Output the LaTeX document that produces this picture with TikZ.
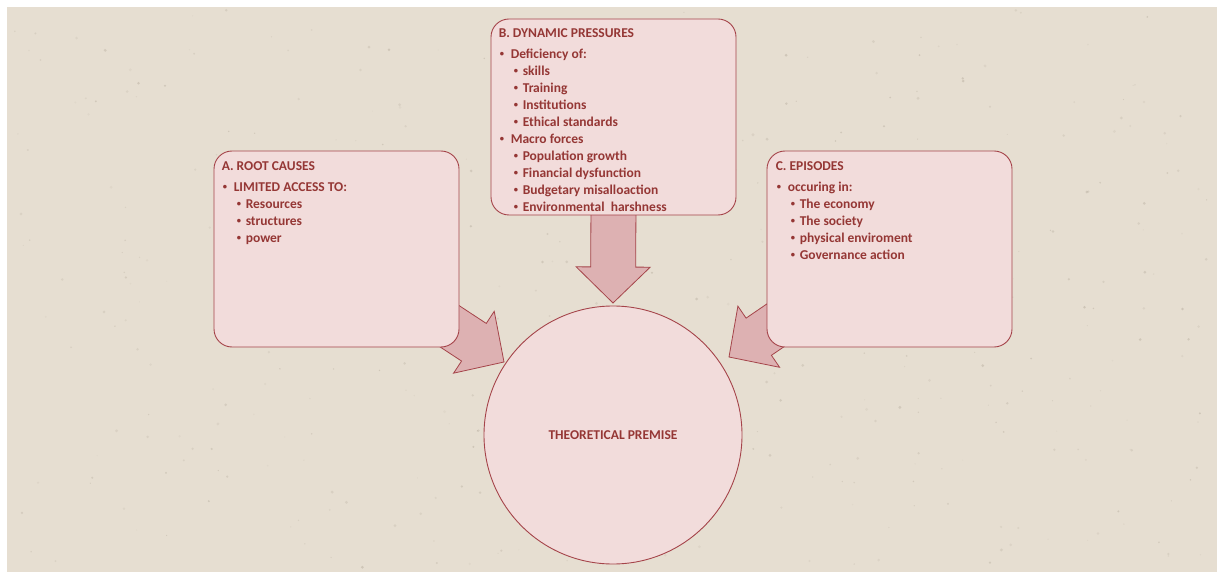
\documentclass[tikz,border=0pt]{standalone}
\usepackage{fontspec}
\setmainfont{Carlito}
\usetikzlibrary{calc}

\definecolor{paper}{HTML}{E6DED1}
\definecolor{speck}{HTML}{8C8170}
\definecolor{boxfill}{HTML}{F2DCDB}
\definecolor{boxline}{HTML}{A5444A}
\definecolor{arrowfill}{HTML}{DDB1B2}
\definecolor{ink}{HTML}{953735}

\pgfdeclarelayer{paperlayer}
\pgfdeclarelayer{arrowlayer}
\pgfsetlayers{paperlayer,arrowlayer,main}

% small bullet and the two list levels
\newcommand\smallbullet{\raisebox{2pt}{\fontsize{8.5}{8.5}\selectfont\textbullet}}
\newcommand\itemone[1]{\hspace*{1pt}\makebox[11pt][l]{\smallbullet}#1}
\newcommand\itemtwo[1]{\hspace*{15pt}\makebox[9pt][l]{\smallbullet}#1}

\tikzset{
  panel/.style={draw=boxline, line width=0.9pt, fill=boxfill,
    rounded corners=18pt, minimum width=245pt, minimum height=196pt,
    inner sep=0pt},
  premise/.style={circle, draw=boxline, line width=0.9pt, fill=boxfill,
    minimum size=258pt, inner sep=0pt, text=ink,
    font=\bfseries\fontsize{13.5}{15}\selectfont},
  listtext/.style={anchor=north west, align=left, inner sep=0pt, text=ink,
    font=\bfseries\fontsize{13.5}{17}\selectfont},
  % wide block arrow from the start point to the tip
  blockarrow/.style={draw=boxline, line width=0.8pt, fill=arrowfill,
    line join=miter,
    to path={
      let \p1=(\tikztostart), \p2=(\tikztotarget),
          \n1={atan2(\y2-\y1,\x2-\x1)} in
      ($(\p1)+(\n1+90:22.5pt)$)
      -- ($(\p2)+(\n1+180:36pt)+(\n1+90:22.5pt)$)
      -- ($(\p2)+(\n1+180:36pt)+(\n1+90:37pt)$)
      -- (\p2)
      -- ($(\p2)+(\n1+180:36pt)+(\n1-90:37pt)$)
      -- ($(\p2)+(\n1+180:36pt)+(\n1-90:22.5pt)$)
      -- ($(\p1)+(\n1-90:22.5pt)$)
      -- cycle}}
}

\begin{document}
\begin{tikzpicture}[x=1pt, y=-1pt]
  \useasboundingbox (0,0) rectangle (1217,577);
  \begin{pgfonlayer}{paperlayer}
    \fill[paper] (7,7) rectangle (1217,572);
    % fine grain of the paper
    \pgfmathsetseed{4711}
    \foreach \k in {1,...,420}{
      \pgfmathsetmacro\px{10+1200*rnd}
      \pgfmathsetmacro\py{10+558*rnd}
      \pgfmathsetmacro\pr{0.5+1.1*rnd}
      \pgfmathsetmacro\po{0.06+0.2*rnd}
      \fill[speck, opacity=\po] (\px,\py) circle[radius=\pr pt];
    }
  \end{pgfonlayer}

  % panels and the central circle
  \node[panel] (boxA) at (336.5,249) {};
  \node[panel] (boxB) at (613.5,117) {};
  \node[panel] (boxC) at (889.5,249) {};
  \node[premise] (circ) at (613,435) {THEORETICAL PREMISE};

  % arrow ends: tails hidden under the panels, tips at the circle
  \coordinate (tailA) at ($(boxA.center)+(100.5,69)$);
  \coordinate (tailB) at ($(boxB.center)+(0,83)$);
  \coordinate (tailC) at ($(boxC.center)+(-94.5,63)$);
  \coordinate (tipA) at ($(circ.center)+(-109,-73)$);
  \coordinate (tipB) at ($(circ.center)+(0,-132)$);
  \coordinate (tipC) at ($(circ.center)+(116,-78)$);

  \begin{pgfonlayer}{arrowlayer}
    \draw[blockarrow] (tailA) to (tipA);
    \draw[blockarrow] (tailB) to (tipB);
    \draw[blockarrow] (tailC) to (tipC);
  \end{pgfonlayer}

  % panel texts
  \node[listtext] (textA) at ($(boxA.north west)+(8,11)$) {%
    A. ROOT CAUSES\\[4pt]
    \itemone{LIMITED ACCESS TO:}\\
    \itemtwo{Resources}\\
    \itemtwo{structures}\\
    \itemtwo{power}};
  \node[listtext] (textB) at ($(boxB.north west)+(8,10)$) {%
    B. DYNAMIC PRESSURES\\[4pt]
    \itemone{Deficiency of:}\\
    \itemtwo{skills}\\
    \itemtwo{Training}\\
    \itemtwo{Institutions}\\
    \itemtwo{Ethical standards}\\
    \itemone{Macro forces}\\
    \itemtwo{Population growth}\\
    \itemtwo{Financial dysfunction}\\
    \itemtwo{Budgetary misalloaction}\\
    \itemtwo{Environmental\ \ harshness}};
  \node[listtext] (textC) at ($(boxC.north west)+(9,11)$) {%
    C. EPISODES\\[4pt]
    \itemone{occuring in:}\\
    \itemtwo{The economy}\\
    \itemtwo{The society}\\
    \itemtwo{physical enviroment}\\
    \itemtwo{Governance action}};
\end{tikzpicture}
\end{document}
